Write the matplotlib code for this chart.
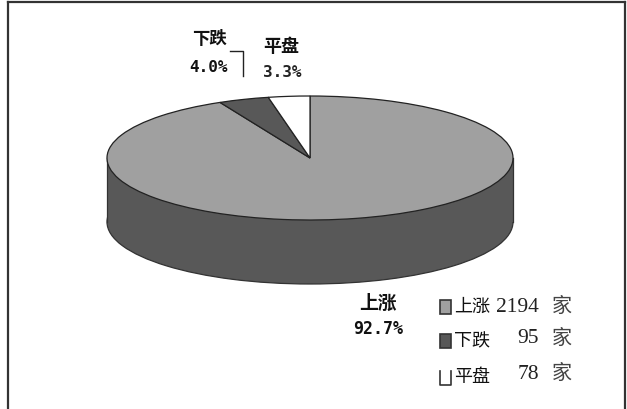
import matplotlib
matplotlib.use('Agg')
from matplotlib import pyplot as plt
from matplotlib.patches import Rectangle

# data
categories = ['上涨', '下跌', '平盘']
counts = [2194, 95, 78]
percents = ['92.7%', '4.0%', '3.3%']
unit = '家'

colors = ['#a0a0a0', '#585858', '#ffffff']
W, H = 627, 410
CX, CY, RX, RY = 310, 159, 203, 62
DEPTH = 64

cjk = ['Noto Sans CJK SC', 'DejaVu Sans']
mono = 'DejaVu Sans Mono'


# pixel position -> pie units
def px(x):
    return (x - CX) / RX


def py(y):
    return (CY - y) / RY


fig = plt.figure(figsize=(W / 100, H / 100), dpi=100)
ax = fig.add_axes([0, 0, 1, 1])

# side of the cylinder
d = DEPTH / RY
ax.pie([1], colors=['#585858'], center=(0, -d),
       wedgeprops={'linewidth': 0.9, 'edgecolor': '#333333', 'zorder': 0.5})
ax.add_patch(Rectangle((-1, -d), 2, d, facecolor='#585858', edgecolor='none', zorder=1))
ax.plot([-1, -1], [0, -d], color='#333333', lw=0.9, zorder=1.5)
ax.plot([1, 1], [0, -d], color='#333333', lw=0.9, zorder=1.5)

# top of the pie
ax.pie(counts, colors=colors, startangle=90, counterclock=False,
       wedgeprops={'linewidth': 0.9, 'edgecolor': '#222222', 'zorder': 3})

ax.set_aspect('auto')
ax.set_xlim(px(0), px(W))
ax.set_ylim(py(H), py(0))
ax.axis('off')

# frame, open at the bottom
ax.plot([px(8), px(8)], [py(H), py(2.5)], color='#333333', lw=1.6, zorder=5)
ax.plot([px(8), px(625)], [py(2.5), py(2.5)], color='#333333', lw=1.6, zorder=5)
ax.plot([px(625), px(625)], [py(2.5), py(H)], color='#333333', lw=1.6, zorder=5)

# leader of the 下跌 label
ax.plot([px(230), px(243), px(243)], [py(52), py(52), py(77)], color='#222222', lw=1.0, zorder=5)

# pie labels
ax.text(px(209), py(39), categories[1], family=cjk, fontsize=12.5, fontweight='bold', ha='center', va='center', color='#111111')
ax.text(px(209), py(67), percents[1], family=mono, fontsize=11.5, fontweight='bold', ha='center', va='center', color='#111111')
ax.text(px(281), py(47), categories[2], family=cjk, fontsize=13, fontweight='bold', ha='center', va='center', color='#111111')
ax.text(px(282), py(73), percents[2], family=mono, fontsize=11.5, fontweight='bold', ha='center', va='center', color='#222222')
ax.text(px(378), py(303), categories[0], family=cjk, fontsize=13.5, fontweight='bold', ha='center', va='center', color='#111111')
ax.text(px(378), py(329), percents[0], family=mono, fontsize=12, fontweight='bold', ha='center', va='center', color='#111111')

# legend
marker_y = [308, 342, 379]
name_y = [307, 341, 377]
count_y = [307, 339, 375]
unit_y = [306, 338, 373]
for i in range(3):
    top = py(marker_y[i] - 7)
    bottom = py(marker_y[i] + 7)
    if i < 2:
        ax.add_patch(Rectangle((px(440), bottom), 11 / RX, top - bottom, facecolor=colors[i], edgecolor='#333333', lw=1.2, zorder=5))
    else:
        # the last box has no top edge
        ax.plot([px(440), px(440), px(451), px(451)], [top, bottom, bottom, top], color='#333333', lw=1.2, zorder=5)
    ax.text(px(454), py(name_y[i]), categories[i], family=cjk, fontsize=13, ha='left', va='center', color='#111111')
    ax.text(px(539), py(count_y[i]), str(counts[i]), family='Liberation Serif', fontsize=15.5, ha='right', va='center', color='#222222')
    ax.text(px(562), py(unit_y[i]), unit, family=cjk, fontsize=14.5, fontweight='light', ha='center', va='center', color='#444444')

plt.savefig('out.png', dpi=100)
